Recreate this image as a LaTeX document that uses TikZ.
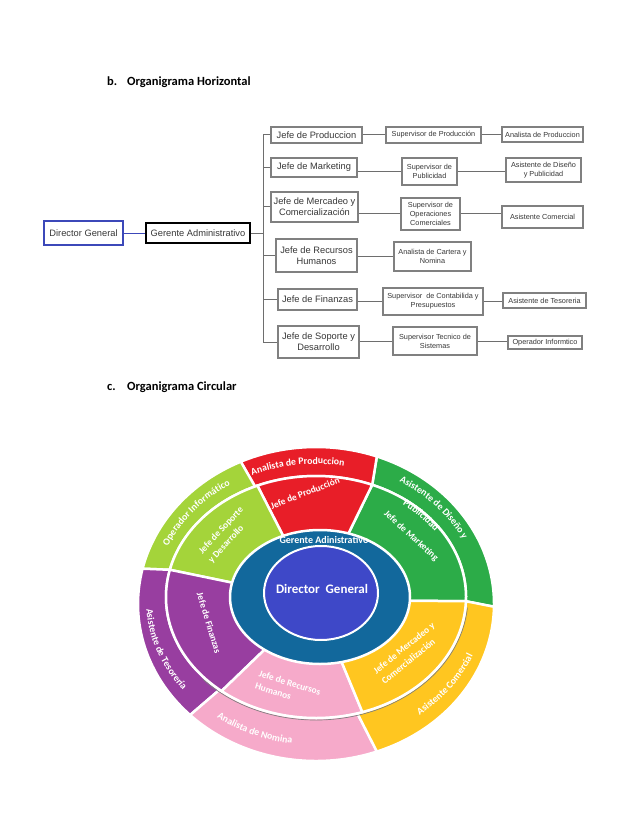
\documentclass[tikz,border=0pt]{standalone}
\usepackage{fontspec}
\setmainfont{Liberation Sans}
\newfontfamily\carl{Carlito}
\usetikzlibrary{decorations.text}
\definecolor{boxgray}{RGB}{128,128,128}
\definecolor{linegray}{RGB}{110,110,110}
\definecolor{txtgray}{RGB}{55,55,55}
\definecolor{dirbord}{RGB}{60,72,185}
\definecolor{cred}{RGB}{232,30,40}
\definecolor{cgreen}{RGB}{44,172,72}
\definecolor{clime}{RGB}{164,212,58}
\definecolor{cpurple}{RGB}{152,62,160}
\definecolor{cpink}{RGB}{246,170,202}
\definecolor{cyellow}{RGB}{255,198,32}
\definecolor{cteal}{RGB}{18,104,156}
\definecolor{cblue}{RGB}{62,72,200}
% outer ring segment: colour, outer start, outer end, sep start, sep end
\newcommand{\outerseg}[5]{\filldraw[fill=#1, draw=white, line width=2.5pt]
  ({178*cos(#2)},{-4+157*sin(#2)}) arc[start angle=#2, end angle=#3, x radius=178, y radius=157]
  -- ({150*cos(#5)},{3+121*sin(#5)}) arc[start angle=#5, end angle=#4, x radius=150, y radius=121] -- cycle;}
\newcommand{\innerseg}[3]{\filldraw[fill=#1, draw=white, line width=2.5pt]
  (0,0) -- ({150*cos(#2)},{3+121*sin(#2)}) arc[start angle=#2, end angle=#3, x radius=150, y radius=121] -- cycle;}
\newcommand{\arctext}[5]{\path[decorate, decoration={text along path, text align=center, text color=white,
  text={|\carl\bfseries\fontsize{9.8}{10}\selectfont|#5}}]
  ({#3*cos(#1)},{#4*sin(#1)}) arc[start angle=#1, end angle=#2, x radius=#3, y radius=#4];}
\begin{document}
\begin{tikzpicture}[x=1pt,y=-1pt,
  hbox/.style={draw=boxgray, line width=1.2pt, fill=white, inner sep=0pt, align=center,
    text=txtgray, font=\fontsize{9.3}{11}\selectfont},
  sbox/.style={hbox, font=\fontsize{7.3}{9}\selectfont},
  conn/.style={draw=linegray, line width=1pt},
  head/.style={anchor=base west, inner sep=0pt, font=\carl\bfseries\fontsize{12.5}{14}\selectfont},
  ctext/.style={text=white, inner sep=0pt, font=\carl\bfseries\fontsize{9.4}{13}\selectfont}]
\useasboundingbox (0,0) rectangle (638,826);
\fill[white] (0,0) rectangle (638,826);

% headings
\node[head] (hb) at (107,86) {b.};
\node[head] (hbt) at (127,86) {Organigrama Horizontal};
\node[head] (hc) at (107,390) {c.};
\node[head] (hct) at (127,390) {Organigrama Circular};

% horizontal chart
\node[hbox, draw=dirbord, line width=1.8pt, minimum width=79, minimum height=24] (dir) at (83.5,233) {Director General};
\node[hbox, draw=black, line width=1.3pt, minimum width=104, minimum height=20] (ger) at (198,233) {Gerente Administrativo};
\coordinate (bus) at (263,233);

\node[hbox, minimum width=91, minimum height=16] (j1) at (316.5,135) {Jefe de Produccion};
\node[hbox, minimum width=86, minimum height=19] (j2) at (314,167.5) {Jefe de Marketing};
\node[hbox, minimum width=87, minimum height=30] (j3) at (314.5,207) {Jefe de Mercadeo y\\Comercialización};
\node[hbox, minimum width=81, minimum height=33] (j4) at (316.5,255.5) {Jefe de Recursos\\Humanos};
\node[hbox, minimum width=79, minimum height=21] (j5) at (317.5,299.5) {Jefe de Finanzas};
\node[hbox, minimum width=81, minimum height=32] (j6) at (318.5,342) {Jefe de Soporte y\\Desarrollo};

\node[sbox, minimum width=95, minimum height=16] (s1) at (433.5,135) {Supervisor de Producción};
\node[sbox, minimum width=55, minimum height=27] (s2) at (429.5,171.5) {Supervisor de\\Publicidad};
\node[sbox, minimum width=59, minimum height=32] (s3) at (430.5,214) {Supervisor de\\Operaciones\\Comerciales};
\node[sbox, minimum width=77, minimum height=29] (s4) at (432.5,256.5) {Analista de Cartera y\\Nomina};
\node[sbox, minimum width=100, minimum height=27] (s5) at (433,301.5) {Supervisor\ \ de Contabilida y\\Presupuestos};
\node[sbox, minimum width=84, minimum height=28] (s6) at (435,341) {Supervisor Tecnico de\\Sistemas};

\node[sbox, minimum width=81, minimum height=15] (a1) at (542.5,134.5) {Analista de Produccion};
\node[sbox, minimum width=75, minimum height=24] (a2) at (543.5,170) {Asistente de Diseño\\y Publicidad};
\node[sbox, minimum width=81, minimum height=22] (a3) at (542.5,217) {Asistente Comercial};
\node[sbox, minimum width=83, minimum height=15] (a5) at (544.5,300.5) {Asistente de Tesoreria};
\node[sbox, minimum width=74, minimum height=13] (a6) at (545,342.5) {Operador Informtico};

\draw[conn, draw=dirbord] (dir.east) -- (ger.west);
\draw[conn] (ger.east) -- (bus);
\draw[conn] (j1.west -| bus) -- (j6.west -| bus);
\foreach \i in {1,...,6} {
  \draw[conn] (j\i.west -| bus) -- (j\i.west);
  \draw[conn] (s\i.west -| j\i.east) -- (s\i.west);
}
\foreach \i in {1,2,3,5,6} {
  \draw[conn] (s\i.east) -- (s\i.east -| a\i.west);
}

% circular chart
\begin{scope}[shift={(316,600)}, y=1pt]
  \outerseg{cgreen}{-1}{70}{-2}{68}
  \outerseg{cred}{70}{115}{68}{114}
  \outerseg{clime}{115}{167}{114}{167}
  \outerseg{cpurple}{167}{225}{167}{230}
  \outerseg{cpink}{225}{290}{230}{286}
  \outerseg{cyellow}{290}{359}{286}{358}
  \draw[gray, line width=0.7pt] ({152*cos(222)},{3+123*sin(222)}) arc[start angle=222, end angle=355, x radius=152, y radius=123];
  \innerseg{cgreen}{-2}{68}
  \innerseg{cred}{68}{113}
  \innerseg{clime}{113}{167}
  \innerseg{cpurple}{167}{231}
  \innerseg{cpink}{231}{288}
  \innerseg{cyellow}{288}{358}
  \filldraw[fill=cteal, draw=white, line width=2.5pt] (4,3) ellipse[x radius=90, y radius=67];
  \filldraw[fill=cblue, draw=white, line width=2pt] (5,7) ellipse[x radius=57, y radius=47];
  \arctext{137}{57}{161}{136}{Analista de Produccion}
  \arctext{181}{101}{161}{136}{Operador Informático}
  \arctext{81}{1}{163}{138}{Asistente de Diseño y}
  \arctext{82}{2}{145}{119}{Publicidad}
  \arctext{160}{240}{170}{145}{Asistente de Tesorería}
  \arctext{207}{287}{170}{145}{Analista de Nomina}
  \arctext{284}{364}{170}{145}{Asistente Comercial}
\end{scope}

\node[ctext, rotate=21] (tjp) at (305,493) {Jefe de Producción};
\node[ctext, rotate=-42] (tjm) at (411,536) {Jefe de Marketing};
\node[ctext, rotate=47, align=left] (tjs) at (226,535) {Jefe de Soporte\\y Desarrollo};
\node[ctext, rotate=-73] (tjf) at (209,623) {Jefe de Finanzas};
\node[ctext, rotate=-17, align=left] (tjr) at (288,689) {Jefe de Recursos\\Humanos};
\node[ctext, rotate=39, align=left] (tjc) at (408,653) {Jefe de Mercadeo y\\Comercialización};
\node[ctext, font=\carl\bfseries\fontsize{10}{12}\selectfont] (tger) at (324,540) {Gerente Adinistrativo};
\node[ctext, font=\carl\bfseries\fontsize{13}{15}\selectfont] (tdir) at (322,589) {Director\ \ General};
\end{tikzpicture}
\end{document}
